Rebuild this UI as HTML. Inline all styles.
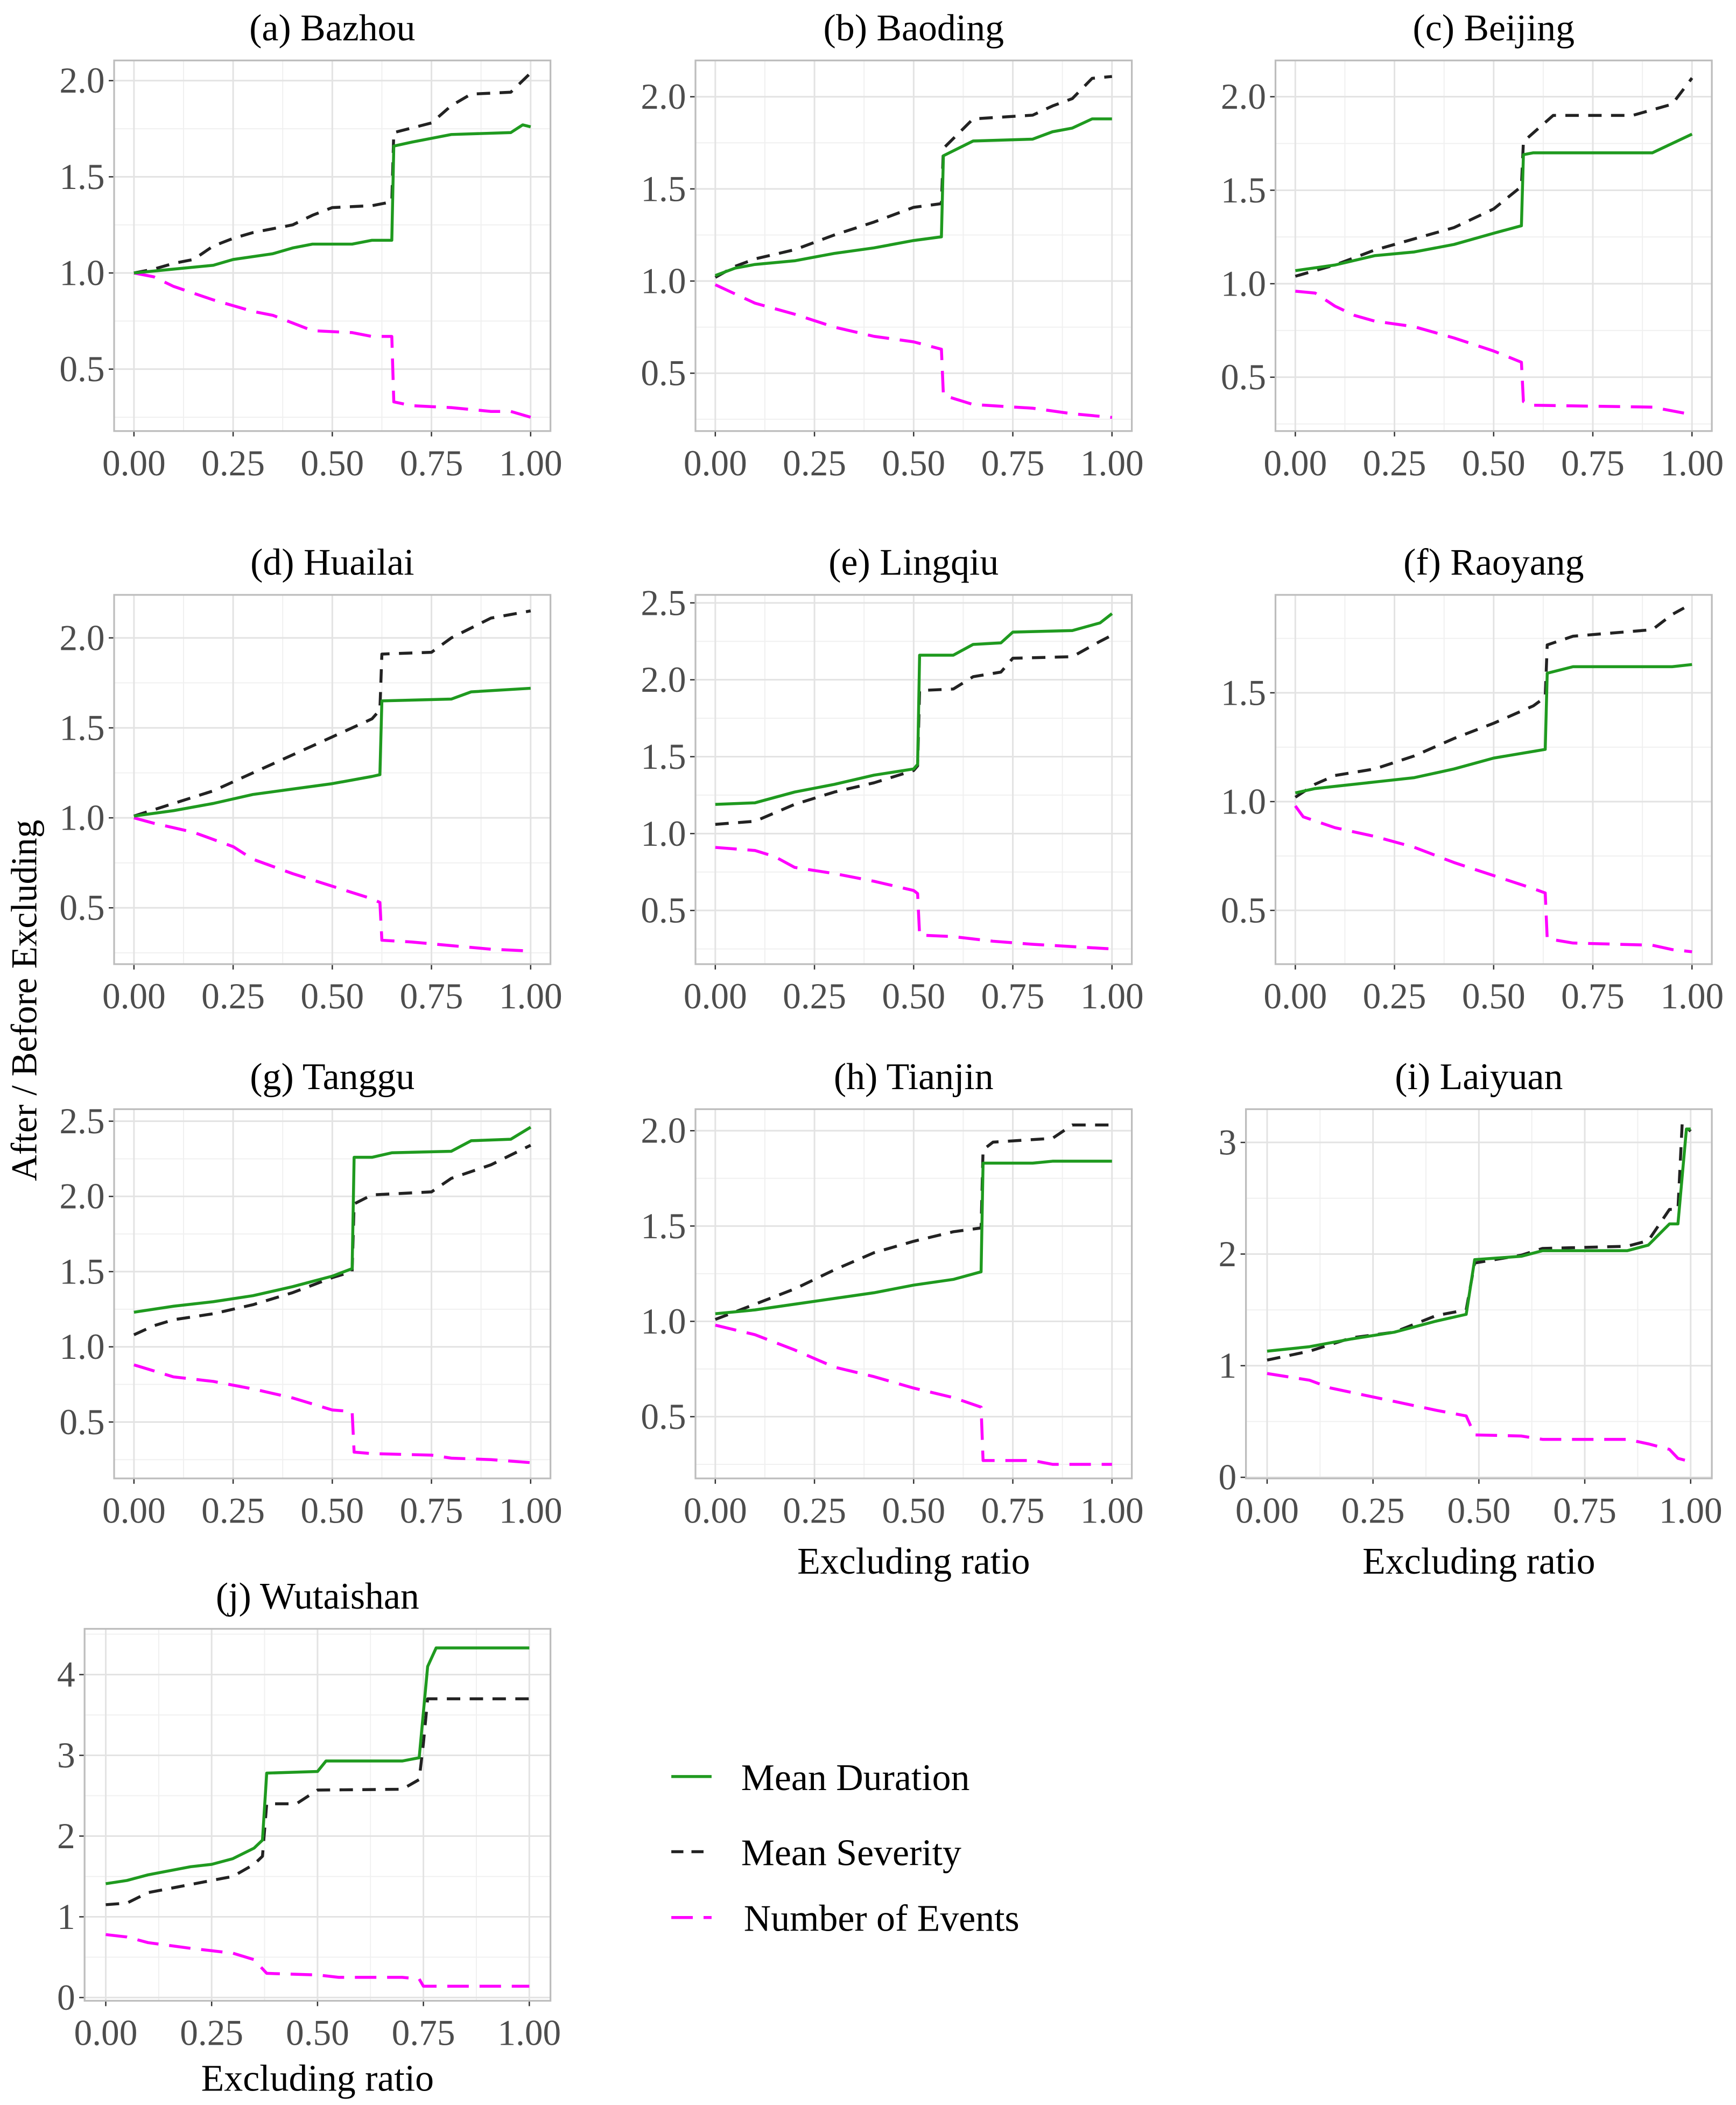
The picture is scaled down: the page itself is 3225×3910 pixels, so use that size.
<!DOCTYPE html>
<html><head><meta charset="utf-8">
<style>
html,body{margin:0;padding:0;background:#fff;}
svg{display:block;}
text{font-family:"Liberation Serif",serif;}
</style></head>
<body>
<svg id="chart" width="3225" height="3910" viewBox="0 0 1293 1567.6" xmlns="http://www.w3.org/2000/svg">
<rect x="0" y="0" width="1293" height="1568" fill="#fff"/>
<text x="0" y="0" transform="translate(27,745) rotate(-90)" text-anchor="middle" font-size="27" fill="#000">After / Before Excluding</text>
<g>
<line x1="500" y1="1323" x2="530" y2="1323" stroke="#1f9a1f" stroke-width="2.2"/>
<text x="552" y="1333" font-size="28" fill="#000">Mean Duration</text>
<line x1="500" y1="1379" x2="530" y2="1379" stroke="#222" stroke-width="2.2" stroke-dasharray="9,6"/>
<text x="552" y="1389" font-size="28" fill="#000">Mean Severity</text>
<line x1="500" y1="1428" x2="530" y2="1428" stroke="#ff00ff" stroke-width="2.2" stroke-dasharray="16,8"/>
<text x="554" y="1438" font-size="28" fill="#000">Number of Events</text>
</g>
</svg>
<script>
// ---- data ----
const panelTitles = ["(a) Bazhou","(b) Baoding","(c) Beijing","(d) Huailai","(e) Lingqiu","(f) Raoyang","(g) Tanggu","(h) Tianjin","(i) Laiyuan","(j) Wutaishan"];
const xTicks = [0,0.25,0.5,0.75,1];
const xTickLabels = ["0.00","0.25","0.50","0.75","1.00"];
const yDomains = [[0.178,2.105],[0.186,2.197],[0.212,2.194],[0.187,2.239],[0.151,2.552],[0.253,1.95],[0.125,2.58],[0.176,2.113],[-0.01,3.298],[-0.04,4.567]];
const yTicks = [[0.5,1,1.5,2],[0.5,1,1.5,2],[0.5,1,1.5,2],[0.5,1,1.5,2],[0.5,1,1.5,2,2.5],[0.5,1,1.5],[0.5,1,1.5,2,2.5],[0.5,1,1.5,2],[0,1,2,3],[0,1,2,3,4]];
const yTickLabels = [["0.5","1.0","1.5","2.0"],["0.5","1.0","1.5","2.0"],["0.5","1.0","1.5","2.0"],["0.5","1.0","1.5","2.0"],["0.5","1.0","1.5","2.0","2.5"],["0.5","1.0","1.5"],["0.5","1.0","1.5","2.0","2.5"],["0.5","1.0","1.5","2.0"],["0","1","2","3"],["0","1","2","3","4"]];
const durationSeries = [
[[0,1.0],[0.1,1.02],[0.2,1.04],[0.25,1.07],[0.35,1.10],[0.4,1.13],[0.45,1.15],[0.55,1.15],[0.6,1.17],[0.65,1.17],[0.655,1.66],[0.7,1.68],[0.8,1.72],[0.95,1.73],[0.98,1.77],[1,1.76]],
[[0,1.03],[0.05,1.07],[0.1,1.09],[0.2,1.11],[0.3,1.15],[0.4,1.18],[0.5,1.22],[0.57,1.24],[0.575,1.68],[0.65,1.76],[0.8,1.77],[0.85,1.81],[0.9,1.83],[0.95,1.88],[1,1.88]],
[[0,1.07],[0.1,1.10],[0.2,1.15],[0.3,1.17],[0.4,1.21],[0.5,1.27],[0.57,1.31],[0.575,1.69],[0.6,1.70],[0.9,1.70],[0.95,1.75],[1,1.80]],
[[0,1.01],[0.1,1.04],[0.2,1.08],[0.3,1.13],[0.4,1.16],[0.5,1.19],[0.6,1.23],[0.62,1.24],[0.625,1.65],[0.8,1.66],[0.85,1.70],[1,1.72]],
[[0,1.19],[0.1,1.20],[0.2,1.27],[0.3,1.32],[0.4,1.38],[0.5,1.42],[0.51,1.45],[0.515,2.16],[0.6,2.16],[0.65,2.23],[0.72,2.24],[0.75,2.31],[0.9,2.32],[0.97,2.37],[1,2.43]],
[[0,1.04],[0.05,1.06],[0.1,1.07],[0.2,1.09],[0.3,1.11],[0.4,1.15],[0.5,1.20],[0.63,1.24],[0.635,1.59],[0.7,1.62],[0.95,1.62],[1,1.63]],
[[0,1.23],[0.1,1.27],[0.2,1.30],[0.3,1.34],[0.4,1.40],[0.5,1.47],[0.55,1.52],[0.555,2.26],[0.6,2.26],[0.65,2.29],[0.8,2.30],[0.85,2.37],[0.95,2.38],[1,2.46]],
[[0,1.04],[0.1,1.06],[0.2,1.09],[0.3,1.12],[0.4,1.15],[0.5,1.19],[0.6,1.22],[0.67,1.26],[0.675,1.83],[0.8,1.83],[0.85,1.84],[1,1.84]],
[[0,1.13],[0.1,1.17],[0.2,1.24],[0.3,1.30],[0.4,1.40],[0.47,1.46],[0.49,1.95],[0.6,1.98],[0.65,2.03],[0.85,2.03],[0.9,2.08],[0.95,2.27],[0.97,2.27],[0.99,3.12],[1,3.12]],
[[0,1.41],[0.05,1.45],[0.1,1.52],[0.2,1.62],[0.25,1.65],[0.3,1.72],[0.35,1.85],[0.37,1.95],[0.38,2.78],[0.5,2.80],[0.52,2.93],[0.7,2.93],[0.74,2.97],[0.76,4.1],[0.78,4.33],[1,4.33]]
];
const severitySeries = [
[[0,1.0],[0.05,1.02],[0.1,1.05],[0.15,1.07],[0.2,1.14],[0.25,1.18],[0.3,1.21],[0.4,1.25],[0.45,1.30],[0.5,1.34],[0.6,1.35],[0.65,1.37],[0.655,1.73],[0.75,1.78],[0.8,1.87],[0.85,1.93],[0.95,1.94],[1,2.04]],
[[0,1.02],[0.05,1.08],[0.1,1.12],[0.2,1.17],[0.3,1.25],[0.4,1.32],[0.5,1.40],[0.57,1.42],[0.575,1.72],[0.65,1.88],[0.8,1.90],[0.85,1.95],[0.9,1.99],[0.95,2.10],[1,2.11]],
[[0,1.04],[0.1,1.10],[0.2,1.18],[0.3,1.24],[0.4,1.30],[0.5,1.40],[0.57,1.52],[0.575,1.76],[0.65,1.90],[0.85,1.90],[0.95,1.96],[1,2.10]],
[[0,1.01],[0.1,1.08],[0.2,1.15],[0.3,1.25],[0.4,1.35],[0.5,1.45],[0.6,1.55],[0.62,1.60],[0.625,1.91],[0.75,1.92],[0.8,2.00],[0.9,2.11],[1,2.15]],
[[0,1.06],[0.1,1.08],[0.2,1.19],[0.3,1.27],[0.4,1.33],[0.5,1.41],[0.51,1.44],[0.515,1.93],[0.6,1.94],[0.65,2.02],[0.72,2.05],[0.75,2.14],[0.9,2.15],[0.97,2.25],[1,2.29]],
[[0,1.02],[0.05,1.08],[0.1,1.12],[0.2,1.15],[0.3,1.21],[0.4,1.29],[0.5,1.36],[0.6,1.44],[0.63,1.48],[0.635,1.72],[0.7,1.76],[0.9,1.79],[0.95,1.86],[0.98,1.89]],
[[0,1.08],[0.05,1.14],[0.1,1.18],[0.2,1.22],[0.3,1.28],[0.4,1.36],[0.5,1.46],[0.55,1.50],[0.555,1.95],[0.6,2.01],[0.75,2.03],[0.8,2.12],[0.9,2.21],[1,2.34]],
[[0,1.01],[0.1,1.09],[0.2,1.17],[0.3,1.27],[0.4,1.36],[0.5,1.42],[0.6,1.47],[0.67,1.49],[0.675,1.90],[0.7,1.94],[0.85,1.96],[0.9,2.03],[1,2.03]],
[[0,1.05],[0.1,1.13],[0.2,1.25],[0.3,1.30],[0.4,1.45],[0.47,1.50],[0.49,1.92],[0.6,1.99],[0.65,2.05],[0.85,2.07],[0.9,2.12],[0.95,2.40],[0.97,2.40],[0.98,3.17],[1,3.10]],
[[0,1.15],[0.05,1.17],[0.1,1.30],[0.2,1.40],[0.25,1.45],[0.3,1.50],[0.35,1.65],[0.37,1.75],[0.38,2.40],[0.45,2.40],[0.5,2.57],[0.7,2.58],[0.74,2.70],[0.75,3.15],[0.76,3.70],[1,3.70]]
];
const eventsSeries = [
[[0,1.0],[0.05,0.98],[0.1,0.93],[0.2,0.86],[0.25,0.83],[0.3,0.80],[0.35,0.78],[0.4,0.74],[0.45,0.70],[0.55,0.69],[0.6,0.67],[0.65,0.67],[0.655,0.33],[0.7,0.31],[0.8,0.30],[0.9,0.28],[0.95,0.28],[1,0.25]],
[[0,0.98],[0.05,0.93],[0.1,0.88],[0.2,0.82],[0.3,0.75],[0.4,0.70],[0.5,0.67],[0.57,0.63],[0.575,0.38],[0.65,0.33],[0.8,0.31],[0.9,0.28],[1,0.26]],
[[0,0.96],[0.05,0.95],[0.1,0.88],[0.15,0.83],[0.2,0.80],[0.3,0.77],[0.4,0.71],[0.5,0.64],[0.57,0.58],[0.575,0.37],[0.6,0.35],[0.9,0.34],[1,0.30]],
[[0,1.0],[0.05,0.97],[0.15,0.92],[0.25,0.84],[0.3,0.77],[0.4,0.69],[0.5,0.62],[0.6,0.55],[0.62,0.53],[0.625,0.32],[0.7,0.31],[0.8,0.29],[0.9,0.27],[1,0.26]],
[[0,0.91],[0.1,0.89],[0.15,0.85],[0.2,0.78],[0.3,0.74],[0.4,0.69],[0.5,0.63],[0.51,0.61],[0.515,0.34],[0.6,0.33],[0.7,0.30],[0.8,0.28],[1,0.25]],
[[0,0.98],[0.02,0.93],[0.1,0.88],[0.2,0.84],[0.3,0.79],[0.4,0.72],[0.5,0.66],[0.6,0.60],[0.63,0.58],[0.635,0.37],[0.7,0.35],[0.9,0.34],[0.95,0.32],[1,0.31]],
[[0,0.88],[0.05,0.84],[0.1,0.80],[0.2,0.77],[0.3,0.72],[0.4,0.66],[0.5,0.58],[0.55,0.57],[0.555,0.30],[0.6,0.29],[0.75,0.28],[0.8,0.26],[0.9,0.25],[1,0.23]],
[[0,0.98],[0.1,0.93],[0.2,0.85],[0.3,0.76],[0.4,0.71],[0.5,0.65],[0.6,0.60],[0.67,0.55],[0.675,0.27],[0.8,0.27],[0.85,0.25],[1,0.25]],
[[0,0.93],[0.1,0.87],[0.15,0.80],[0.2,0.76],[0.3,0.68],[0.4,0.60],[0.47,0.55],[0.49,0.38],[0.6,0.37],[0.65,0.34],[0.85,0.34],[0.9,0.30],[0.95,0.25],[0.97,0.17],[1,0.14]],
[[0,0.78],[0.05,0.75],[0.1,0.68],[0.2,0.61],[0.3,0.55],[0.35,0.47],[0.38,0.30],[0.5,0.28],[0.55,0.25],[0.7,0.25],[0.74,0.23],[0.75,0.14],[1,0.14]]
];
// ---- layout ----
const panelBoxes = [
[85,45,410,321],[518,45,843,321],[950,45,1275,321],
[85,443,410,718],[518,443,843,718],[950,443,1275,718],
[85,826,410,1101],[518,826,843,1101],[928,826,1275,1101],
[63,1213,410,1490]
];
const showXTitle = [false,false,false,false,false,false,false,true,true,true];
const NS = "http://www.w3.org/2000/svg";
const svg = document.getElementById("chart");
function mk(tag, attrs, parent){
  const e = document.createElementNS(NS, tag);
  for (const k in attrs) e.setAttribute(k, attrs[k]);
  parent.appendChild(e);
  return e;
}
panelBoxes.forEach((b, i) => {
  const [x0,y0,x1,y1] = b;
  const g = mk("g", {}, svg);
  
  
  const w = x1-x0, pad = w*0.05/1.1;
  const sx = v => x0 + pad + v*(w-2*pad);
  const [ymin,ymax] = yDomains[i];
  const sy = v => y1 - (v-ymin)/(ymax-ymin)*(y1-y0);
  const yt = yTicks[i];
  const step = yt[1]-yt[0];
  const minors = [];
  for (let k=-1;k<yt.length;k++){ const v = yt[0]+step*(k+0.5); if (v>ymin && v<ymax) minors.push(v); }
  minors.forEach(v => {
    const l = mk("line",{x1:x0,x2:x1,y1:sy(v),y2:sy(v),stroke:"#f0f0f0","stroke-width":0.8},g);
    
    
  });
  for (let k=0;k<xTicks.length-1;k++){
    const v=(xTicks[k]+xTicks[k+1])/2;
    const l = mk("line",{x1:sx(v),x2:sx(v),y1:y0,y2:y1,stroke:"#f0f0f0","stroke-width":0.8},g);
    
    
  }
  yt.forEach((v,k) => {
    const l = mk("line",{x1:x0,x2:x1,y1:sy(v),y2:sy(v),stroke:"#e3e3e3","stroke-width":1.2},g);
    
    
    const t = mk("line",{x1:x0-4,x2:x0,y1:sy(v),y2:sy(v),stroke:"#333","stroke-width":1},g);
    
    
    const tx = mk("text",{x:x0-7,y:sy(v)+9,"text-anchor":"end","font-size":27,fill:"#4d4d4d"},g);
    
    
    tx.textContent = yTickLabels[i][k];
  });
  xTicks.forEach((v,k) => {
    const l = mk("line",{x1:sx(v),x2:sx(v),y1:y0,y2:y1,stroke:"#e3e3e3","stroke-width":1.2},g);
    
    
    const t = mk("line",{x1:sx(v),x2:sx(v),y1:y1,y2:y1+4,stroke:"#333","stroke-width":1},g);
    
    
    const tx = mk("text",{x:sx(v),y:y1+33,"text-anchor":"middle","font-size":27,fill:"#4d4d4d"},g);
    
    
    tx.textContent = xTickLabels[k];
  });
  const frame = mk("rect",{x:x0,y:y0,width:w,height:y1-y0,fill:"none",stroke:"#bdbdbd","stroke-width":1.3},g);
  
  
  const title = mk("text",{x:(x0+x1)/2,y:y0-15,"text-anchor":"middle","font-size":28,fill:"#000"},g);
  
  
  title.textContent = panelTitles[i];
  if (showXTitle[i]){
    const xt = mk("text",{x:(x0+x1)/2,y:y1+(i===9?67:71),"text-anchor":"middle","font-size":28,fill:"#000"},g);
    
    
    xt.textContent = "Excluding ratio";
  }
  const series = [
    [eventsSeries[i],"#ff00ff","16,8","events-line"],
    [severitySeries[i],"#222222","10,7","severity-line"],
    [durationSeries[i],"#1f9a1f","none","duration-line"]
  ];
  series.forEach(s => {
    const d = s[0].map((p,k)=>(k?"L":"M")+sx(p[0]).toFixed(2)+","+sy(p[1]).toFixed(2)).join(" ");
    const p = mk("path",{d:d,fill:"none",stroke:s[1],"stroke-width":2.2,"stroke-dasharray":s[2],"stroke-linejoin":"round"},g);
    
    
  });
});
</script>
</body></html>
